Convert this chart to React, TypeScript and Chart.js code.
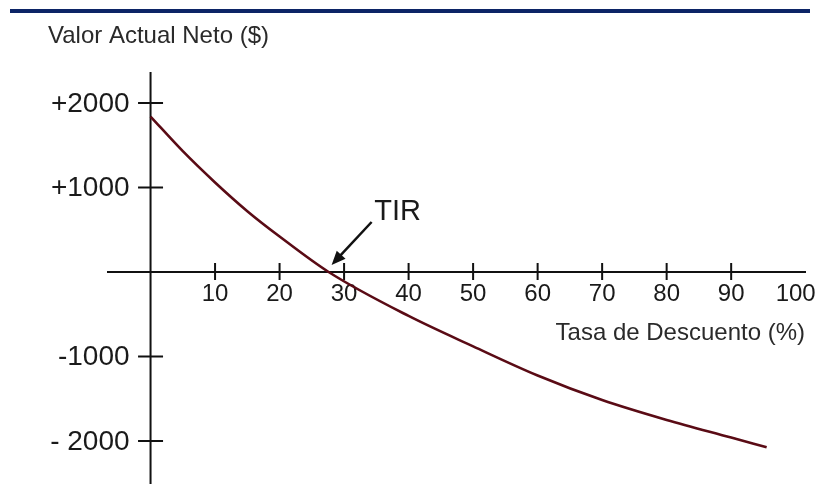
import React, { useEffect, useRef } from "react";
import { Chart, registerables } from "chart.js";

Chart.register(...registerables);

// ---- data ----
const discountRates = [0, 5, 10, 15, 20, 27.6, 40, 50, 60, 70, 80, 90, 95.5];
const npvValues = [1840, 1430, 1060, 720, 420, 0, -520, -880, -1225, -1515, -1751, -1960, -2075];

const xTickValues = [10, 20, 30, 40, 50, 60, 70, 80, 90];
const xLabelValues = [10, 20, 30, 40, 50, 60, 70, 80, 90, 100];
const xLabelTexts = ["10", "20", "30", "40", "50", "60", "70", "80", "90", "100"];

const yTickValues = [2000, 1000, -1000, -2000];
const yLabelTexts = ["+2000", "+1000", "-1000", "- 2000"];

const yAxisTitle = "Valor Actual Neto ($)";
const xAxisTitle = "Tasa de Descuento (%)";
const irrLabel = "TIR";
const irrRate = 27.6;
const irrValue = 0;

const FONT = "'Liberation Sans', Arial, Helvetica, sans-serif";

const crossAxesPlugin = {
  id: "crossAxes",
  beforeDatasetsDraw(chart: any) {
    const { ctx, chartArea } = chart;
    const xs = chart.scales.x;
    const ys = chart.scales.y;
    const x0 = xs.getPixelForValue(0);
    const y0 = ys.getPixelForValue(0);
    ctx.save();
    ctx.strokeStyle = "#111111";
    ctx.lineWidth = 2;
    ctx.beginPath();
    ctx.moveTo(x0, chartArea.top);
    ctx.lineTo(x0, chartArea.bottom);
    ctx.moveTo(chartArea.left, y0);
    ctx.lineTo(chartArea.right, y0);
    yTickValues.forEach((v) => {
      const py = ys.getPixelForValue(v);
      ctx.moveTo(x0 - 12.5, py);
      ctx.lineTo(x0 + 12.5, py);
    });
    xTickValues.forEach((v) => {
      const px = xs.getPixelForValue(v);
      ctx.moveTo(px, y0 - 9);
      ctx.lineTo(px, y0 + 8);
    });
    ctx.stroke();

    ctx.fillStyle = "#1a1a1a";
    ctx.textBaseline = "middle";
    ctx.textAlign = "center";
    ctx.font = `24px ${FONT}`;
    xLabelValues.forEach((v, i) => {
      ctx.fillText(xLabelTexts[i], xs.getPixelForValue(v), y0 + 22);
    });

    ctx.textAlign = "right";
    ctx.font = `28px ${FONT}`;
    yTickValues.forEach((v, i) => {
      ctx.fillText(yLabelTexts[i], x0 - 21, ys.getPixelForValue(v) + 1);
    });

    ctx.fillStyle = "#2a2a2a";
    ctx.font = `24px ${FONT}`;
    ctx.textAlign = "left";
    ctx.fillText(yAxisTitle, 48, 36);
    ctx.textAlign = "right";
    ctx.fillText(xAxisTitle, 805, 333);
    ctx.restore();
  },
  afterDatasetsDraw(chart: any) {
    const { ctx } = chart;
    const xs = chart.scales.x;
    const ys = chart.scales.y;
    const px = xs.getPixelForValue(irrRate);
    const py = ys.getPixelForValue(irrValue);
    const tipX = px + 3;
    const tipY = py - 7;
    const tailX = px + 43;
    const tailY = py - 50;
    const ang = Math.atan2(tipY - tailY, tipX - tailX);
    const headLen = 14;
    const headW = 6;
    ctx.save();
    ctx.strokeStyle = "#111111";
    ctx.fillStyle = "#111111";
    ctx.lineWidth = 2.5;
    ctx.beginPath();
    ctx.moveTo(tailX, tailY);
    ctx.lineTo(tipX - Math.cos(ang) * (headLen - 2), tipY - Math.sin(ang) * (headLen - 2));
    ctx.stroke();
    const bx = tipX - Math.cos(ang) * headLen;
    const by = tipY - Math.sin(ang) * headLen;
    ctx.beginPath();
    ctx.moveTo(tipX, tipY);
    ctx.lineTo(bx + Math.sin(ang) * headW, by - Math.cos(ang) * headW);
    ctx.lineTo(bx - Math.sin(ang) * headW, by + Math.cos(ang) * headW);
    ctx.closePath();
    ctx.fill();

    ctx.fillStyle = "#1a1a1a";
    ctx.font = `29px ${FONT}`;
    ctx.textAlign = "center";
    ctx.textBaseline = "middle";
    ctx.fillText(irrLabel, px + 69, py - 60);
    ctx.restore();
  },
};

export default function App() {
  const canvasRef = useRef<HTMLCanvasElement | null>(null);

  useEffect(() => {
    document.body.style.margin = "0";
    const canvas = canvasRef.current;
    if (!canvas) return;
    const chart = new Chart(canvas, {
      type: "line",
      data: {
        datasets: [
          {
            data: discountRates.map((r, i) => ({ x: r, y: npvValues[i] })),
            borderColor: "#5a0b15",
            borderWidth: 2.6,
            pointRadius: 0,
            cubicInterpolationMode: "monotone",
            fill: false,
            clip: false as any,
          },
        ],
      },
      options: {
        responsive: false,
        animation: false,
        events: [],
        layout: { padding: { left: 107, right: 14, top: 72, bottom: 0 } },
        plugins: {
          legend: { display: false },
          tooltip: { enabled: false },
          title: { display: false },
        },
        scales: {
          x: { type: "linear", min: -6.75, max: 101.6, display: false },
          y: { type: "linear", min: -2509, max: 2367, display: false },
        },
      },
      plugins: [crossAxesPlugin],
    });
    return () => chart.destroy();
  }, []);

  return (
    <div style={{ position: "relative", width: 820, height: 484, background: "#ffffff", overflow: "hidden" }}>
      <div
        style={{
          position: "absolute",
          left: 10,
          top: 9,
          width: 800,
          height: 4,
          background: "#0c2466",
        }}
      />
      <canvas ref={canvasRef} width={820} height={484} style={{ display: "block", width: 820, height: 484 }} />
    </div>
  );
}
